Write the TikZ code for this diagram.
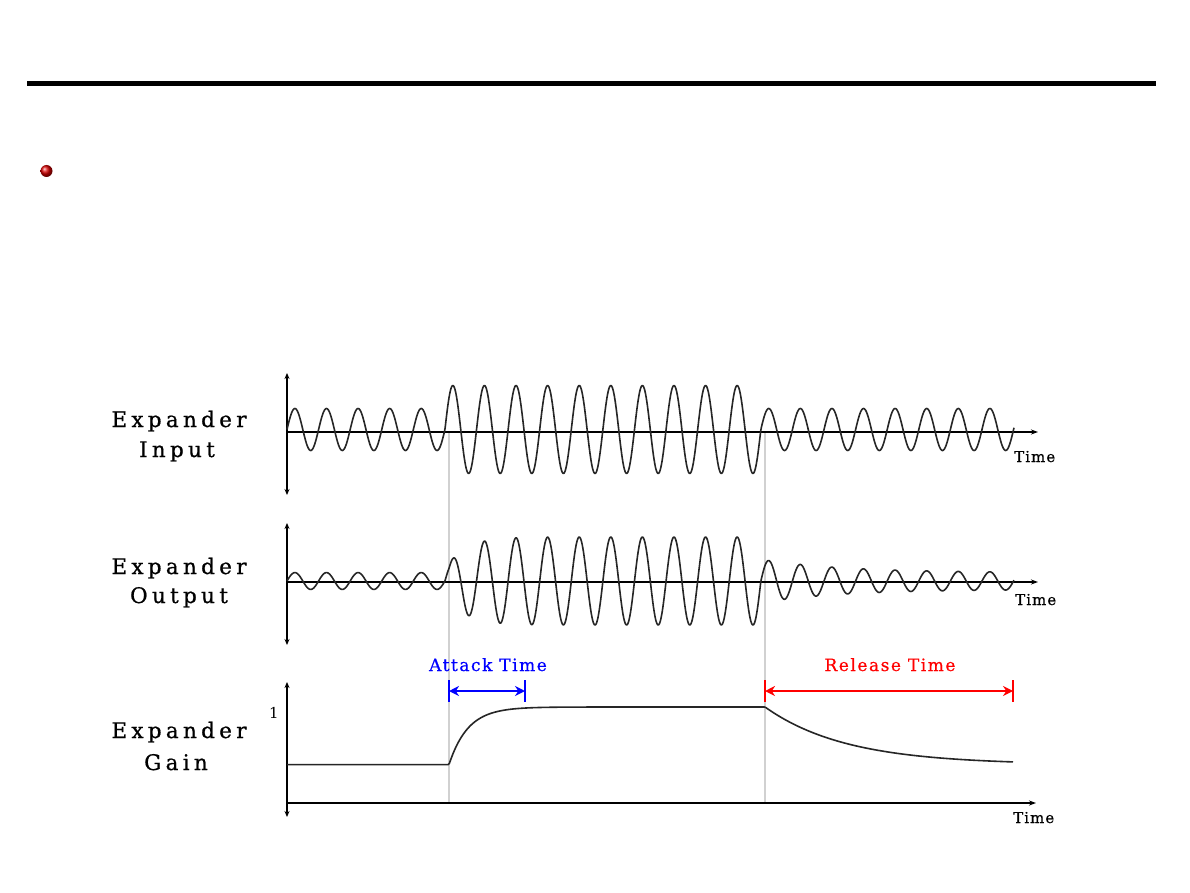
\documentclass[tikz,border=0pt]{standalone}
\usepackage{fontspec}
\setmainfont{DejaVu Serif}
\newfontfamily\labfont[LetterSpace=20,FakeBold=0.8]{DejaVu Serif}
\newfontfamily\timefont[LetterSpace=7,FakeBold=0.6]{DejaVu Serif}
\newfontfamily\mfont[LetterSpace=9,FakeBold=0.6]{DejaVu Serif}
\usetikzlibrary{arrows.meta,shadings}
\tikzset{
  axis/.style={line width=1.7pt,black},
  biaxis/.style={axis,{Stealth[length=6pt,width=5pt]}-{Stealth[length=6pt,width=5pt]}},
  haxis/.style={axis,-{Stealth[length=7pt,width=5pt]}},
  wave/.style={line width=1.6pt,black!85,line join=round},
  guide/.style={line width=2pt,black!18},
  lab/.style={anchor=base,inner sep=0pt,font=\labfont\fontsize{21.5}{21.5}\selectfont},
  timelab/.style={anchor=base west,inner sep=0pt,font=\timefont\fontsize{15}{15}\selectfont},
  spanlab/.style={anchor=base,inner sep=0pt,font=\mfont\fontsize{17}{17}\selectfont},
  span/.style={line width=2.8pt,{Stealth[length=10pt,width=10pt]}-{Stealth[length=10pt,width=10pt]}},
  bar/.style={line width=2.8pt},
  declare function={
    Amp(\t)=21+23*((\t>445)*(\t<761));
    Gn(\t)=0.4+0.6*((\t>=449)*(\t<765)*(1-exp(-(\t-449)/19))+(\t>=765)*exp(-(\t-765)/81));
    Sn(\t)=sin((\t-287)*11.396);
  }
}
\begin{document}
\begin{tikzpicture}[x=1pt,y=-1pt]
\useasboundingbox (0,0) rectangle (1190,893);
\fill[white] (0,0) rectangle (1190,893);
% top rule
\fill[black] (27,81) rectangle (1156,86);
% bullet
\shade[ball color=red!85!black] (46.5,171) circle (6);

% guides
\coordinate (g1t) at (449,432);
\coordinate (g1b) at (449,803);
\coordinate (g2t) at (765,432);
\coordinate (g2b) at (765,803);
\draw[guide] (g1t) -- (g1b);
\draw[guide] (g2t) -- (g2b);

% ---- Input panel
\coordinate (i0) at (287,432);
\coordinate (iT) at (287,373);
\coordinate (iB) at (287,495);
\coordinate (iR) at (1038,432);
\draw[biaxis] (iT) -- (iB);
\draw[haxis] (i0) -- (iR);
\draw[wave] plot[domain=287:1014,samples=1100] (\x,{429.5-Amp(\x)*Sn(\x)});
\node[lab] (inA) at (179,427) {Expander};
\node[lab] (inB) at (177,457) {Input};
\node[timelab] (inT) at (1014,462) {Time};

% ---- Output panel
\coordinate (o0) at (287,582);
\coordinate (oT) at (287,523);
\coordinate (oB) at (287,645);
\coordinate (oR) at (1038,582);
\draw[biaxis] (oT) -- (oB);
\draw[haxis] (o0) -- (oR);
\draw[wave] plot[domain=287:1014,samples=1100] (\x,{581-Amp(\x)*Gn(\x)*Sn(\x)});
\node[lab] (outA) at (179,574) {Expander};
\node[lab] (outB) at (179,603) {Output};
\node[timelab] (outT) at (1015,605) {Time};

% ---- Gain panel
\coordinate (gz) at (287,803);
\coordinate (gT) at (287,682);
\coordinate (gB) at (287,817);
\coordinate (gR) at (1036,803);
\draw[biaxis] (gT) -- (gB);
\draw[haxis] (gz) -- (gR);
\draw[wave] plot[domain=287:1013,samples=600] (\x,{803-96*Gn(\x)});
\node[anchor=base,inner sep=0pt,font=\fontsize{15}{15}\selectfont] (one) at (274,718) {1};
\node[lab] (gnA) at (179,738) {Expander};
\node[lab] (gnB) at (176,770) {Gain};
\node[timelab] (gnT) at (1013,823) {Time};

% attack span
\coordinate (aL) at (449,691);
\coordinate (aR) at (525,691);
\draw[blue,bar] (449,680) -- (449,702);
\draw[blue,bar] (525,680) -- (525,702);
\draw[blue,span] (aL) -- (aR);
\node[spanlab,text=blue] (att) at (488,671) {Attack Time};

% release span
\coordinate (rL) at (765,691);
\coordinate (rR) at (1013,691);
\draw[red,bar] (765,680) -- (765,702);
\draw[red,bar] (1013,680) -- (1013,702);
\draw[red,span] (rL) -- (rR);
\node[spanlab,text=red] (rel) at (890,671) {Release Time};
\end{tikzpicture}
\end{document}
